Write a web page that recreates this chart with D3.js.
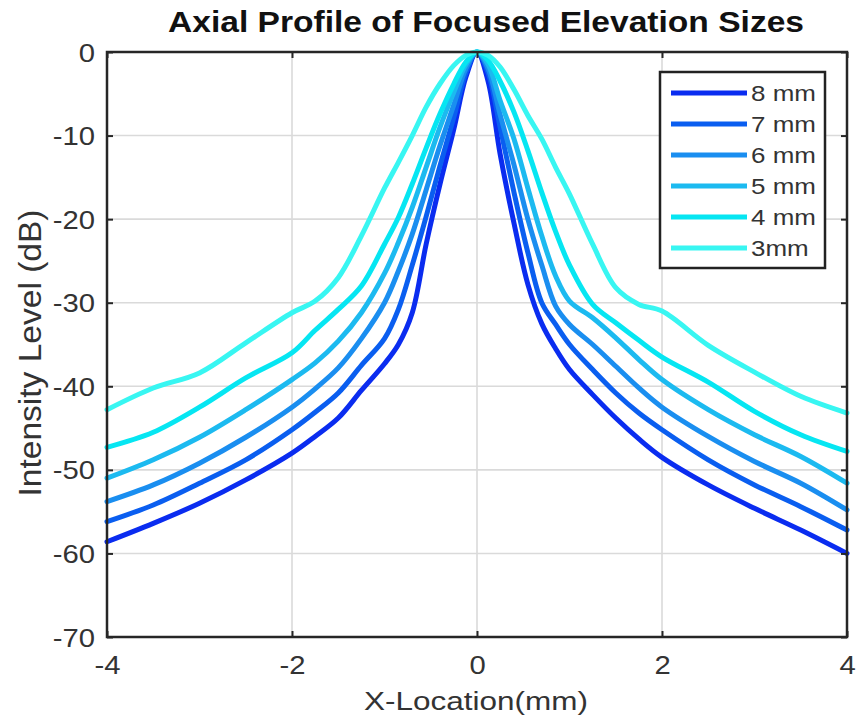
<!DOCTYPE html>
<html>
<head>
<meta charset="utf-8">
<script src="https://cdn.jsdelivr.net/npm/d3@7"></script>
<style>
  body { margin: 0; background: #fff; }
  svg { display: block; font-family: "Liberation Sans", Arial, sans-serif; }
</style>
</head>
<body>
<div id="chart"></div>
<script>
// x samples (mm), shared by every curve
const xs = [-4, -3.5, -3, -2.5, -2, -1.75, -1.5, -1.25, -1, -0.85, -0.7, -0.55, -0.4, -0.25, -0.12, 0,
            0.12, 0.25, 0.4, 0.55, 0.7, 0.85, 1, 1.25, 1.5, 1.75, 2, 2.5, 3, 3.5, 4];

// intensity (dB)
const mm8 = [-58.6, -56.4, -54.0, -51.2, -48.0, -46.0, -43.8, -40.5, -37.3, -35.0, -31.2, -23.0, -15.8, -9.2, -3.0, 0,
             -3.5, -12.2, -20.5, -27.8, -32.5, -35.5, -38.0, -41.0, -43.8, -46.3, -48.5, -51.8, -54.6, -57.2, -60.0];
const mm7 = [-56.2, -54.2, -51.6, -48.8, -45.2, -43.1, -40.8, -37.5, -34.3, -30.8, -25.5, -19.7, -13.6, -7.8, -2.5, 0,
             -2.5, -9.0, -16.8, -24.0, -30.0, -32.6, -35.0, -38.0, -40.8, -43.2, -45.2, -48.8, -51.8, -54.4, -57.2];
const mm6 = [-53.8, -51.8, -49.2, -46.1, -42.5, -40.3, -37.8, -34.3, -30.0, -26.2, -21.8, -16.5, -11.2, -6.3, -2.0, 0,
             -2.0, -7.5, -13.5, -20.0, -25.5, -30.4, -32.6, -35.0, -37.6, -40.2, -42.5, -46.0, -49.0, -51.6, -54.8];
const mm5 = [-51.0, -48.8, -46.1, -42.8, -39.2, -37.2, -34.6, -31.2, -26.5, -22.8, -18.6, -13.8, -9.0, -4.8, -1.5, 0,
             -1.5, -5.8, -10.4, -16.3, -22.0, -26.8, -29.8, -31.8, -34.2, -36.8, -39.2, -42.8, -45.8, -48.4, -51.6];
const mm4 = [-47.3, -45.5, -42.5, -39.0, -36.0, -33.3, -30.8, -28.0, -23.0, -19.8, -15.8, -11.5, -7.4, -3.8, -1.2, 0,
             -1.0, -3.5, -7.2, -11.8, -16.8, -21.5, -25.5, -30.2, -32.4, -34.5, -36.5, -39.5, -43.0, -45.8, -47.8];
const mm3 = [-42.8, -40.2, -38.4, -34.8, -31.2, -29.8, -27.0, -22.0, -16.3, -13.2, -10.0, -6.6, -3.8, -1.6, -0.4, 0,
             -0.4, -1.8, -4.5, -7.6, -10.4, -13.8, -17.0, -23.0, -28.2, -30.2, -31.0, -35.1, -38.3, -41.2, -43.2];

const names = ["8 mm", "7 mm", "6 mm", "5 mm", "4 mm", "3mm"];
const colors = ["#0a2cf0", "#0a5ef0", "#1a8ef0", "#1cbaf0", "#06e6f2", "#38f6f2"];
const xTicks = [-4, -2, 0, 2, 4];
const yTicks = [-70, -60, -50, -40, -30, -20, -10, 0];

const series = [mm8, mm7, mm6, mm5, mm4, mm3].map((ys, i) => ({
  name: names[i],
  color: colors[i],
  points: xs.map((x, j) => [x, ys[j]])
}));

const width = 858, height = 721;
const plot = { left: 107, right: 847, top: 52, bottom: 637 };

const svg = d3.select("#chart").append("svg")
  .attr("width", width)
  .attr("height", height);

const x = d3.scaleLinear().domain([-4, 4]).range([plot.left, plot.right]);
const y = d3.scaleLinear().domain([-70, 0]).range([plot.bottom, plot.top]);

// stretch text a little wider, the source image is squashed
function widen(sel, k) {
  sel.each(function() {
    const w = this.getComputedTextLength();
    d3.select(this).attr("textLength", w * k).attr("lengthAdjust", "spacingAndGlyphs");
  });
}

// grid
svg.append("g").selectAll("line").data(xTicks.slice(1, -1)).join("line")
  .attr("x1", d => x(d)).attr("x2", d => x(d))
  .attr("y1", plot.top).attr("y2", plot.bottom)
  .attr("stroke", "#dadada").attr("stroke-width", 1.6);
svg.append("g").selectAll("line").data(yTicks.slice(1, -1)).join("line")
  .attr("x1", plot.left).attr("x2", plot.right)
  .attr("y1", d => y(d)).attr("y2", d => y(d))
  .attr("stroke", "#dadada").attr("stroke-width", 1.6);

// curves
const line = d3.line()
  .x(d => x(d[0]))
  .y(d => y(d[1]))
  .curve(d3.curveCatmullRom.alpha(0.5));

svg.append("g").selectAll("path").data(series).join("path")
  .attr("d", d => line(d.points))
  .attr("fill", "none")
  .attr("stroke", d => d.color)
  .attr("stroke-width", 5)
  .attr("stroke-linejoin", "round")
  .attr("stroke-linecap", "round");

// axes, ticks point inward; plain hyphen for negatives like the source
const fmt = d => String(d);
const xAxis = svg.append("g")
  .attr("transform", `translate(0,${plot.bottom})`)
  .call(d3.axisBottom(x).tickValues(xTicks).tickFormat(fmt).tickSizeInner(-6).tickSizeOuter(0).tickPadding(19));
const yAxis = svg.append("g")
  .attr("transform", `translate(${plot.left},0)`)
  .call(d3.axisLeft(y).tickValues(yTicks).tickFormat(fmt).tickSizeInner(-6).tickSizeOuter(0).tickPadding(12));
svg.append("g")
  .attr("transform", `translate(0,${plot.top})`)
  .call(d3.axisTop(x).tickValues(xTicks).tickSizeInner(-6).tickSizeOuter(0).tickFormat(""));
svg.append("g")
  .attr("transform", `translate(${plot.right},0)`)
  .call(d3.axisRight(y).tickValues(yTicks).tickSizeInner(-6).tickSizeOuter(0).tickFormat(""));

svg.selectAll(".domain").remove();
svg.selectAll(".tick line").attr("stroke", "#262626").attr("stroke-width", 2);

[xAxis, yAxis].forEach(a => {
  a.selectAll("text")
    .attr("fill", "#333")
    .style("font-size", "25px");
  widen(a.selectAll("text"), 1.17);
});
yAxis.selectAll("text").attr("dy", "0.36em");

svg.append("rect")
  .attr("x", plot.left).attr("y", plot.top)
  .attr("width", plot.right - plot.left).attr("height", plot.bottom - plot.top)
  .attr("fill", "none")
  .attr("stroke", "#262626")
  .attr("stroke-width", 2.5);

// title and labels
svg.append("text")
  .attr("x", 486).attr("y", 32)
  .attr("text-anchor", "middle")
  .style("font-size", "30px")
  .style("font-weight", "bold")
  .attr("fill", "#111")
  .attr("textLength", 636)
  .attr("lengthAdjust", "spacingAndGlyphs")
  .text("Axial Profile of Focused Elevation Sizes");

svg.append("text")
  .attr("x", 476).attr("y", 710)
  .attr("text-anchor", "middle")
  .style("font-size", "26px")
  .attr("fill", "#333")
  .attr("textLength", 224)
  .attr("lengthAdjust", "spacingAndGlyphs")
  .text("X-Location(mm)");

svg.append("text")
  .attr("transform", "translate(41,353) rotate(-90)")
  .attr("text-anchor", "middle")
  .style("font-size", "31px")
  .attr("fill", "#333")
  .attr("textLength", 287)
  .attr("lengthAdjust", "spacingAndGlyphs")
  .text("Intensity Level (dB)");

// legend
const legend = svg.append("g");
legend.append("rect")
  .attr("x", 660).attr("y", 72)
  .attr("width", 165).attr("height", 196)
  .attr("fill", "#fff")
  .attr("stroke", "#222")
  .attr("stroke-width", 2.5);

const rowY = d3.scalePoint().domain(names).range([93, 248]);

const items = legend.selectAll("g.item").data(series).join("g")
  .attr("class", "item")
  .attr("transform", d => `translate(0,${rowY(d.name)})`);
items.append("line")
  .attr("x1", 671).attr("x2", 747)
  .attr("stroke", d => d.color)
  .attr("stroke-width", 5);
items.append("text")
  .attr("x", 751)
  .attr("dy", "0.36em")
  .style("font-size", "22px")
  .attr("fill", "#333")
  .text(d => d.name);
widen(items.selectAll("text"), 1.18);
</script>
</body>
</html>
